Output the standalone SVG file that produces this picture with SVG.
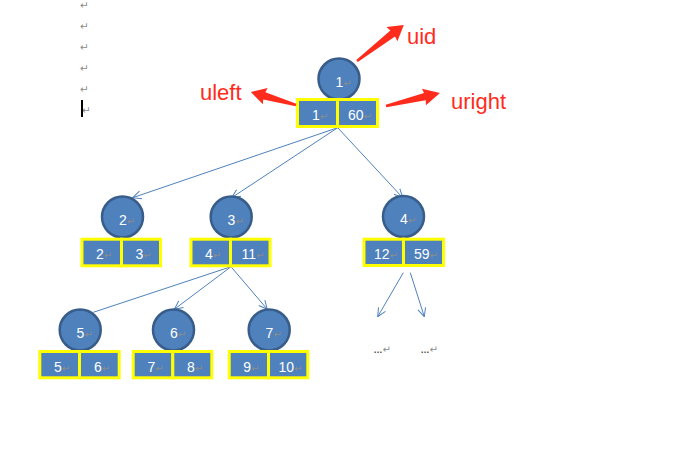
<svg xmlns="http://www.w3.org/2000/svg" width="690" height="462" viewBox="0 0 690 462">
<defs>
<style>
.circ{fill:#4f81bd;stroke:#385d8a;stroke-width:2.5}
.box{fill:#4f81bd;stroke:#ffff00;stroke-width:3}
.num{font-family:"Liberation Sans",Arial,sans-serif;font-size:14px;fill:#ffffff;text-anchor:middle}
.pm{font-family:"DejaVu Sans",sans-serif;font-size:10px;fill:#8c8c8c}
.mark{font-family:"DejaVu Sans",sans-serif;font-size:10.5px;fill:#8c8c8c}
.con{stroke:#4f81bd;stroke-width:1;fill:none}
.red{fill:#ff2b1c}
.lbl{font-family:"Liberation Sans",Arial,sans-serif;font-size:22px;fill:#ff2b1c}
.dots{font-family:"Liberation Sans",Arial,sans-serif;font-size:9px;font-weight:bold;fill:#444}
</style>
<marker id="arr" viewBox="0 0 10 10" refX="9.5" refY="5" markerWidth="10" markerHeight="10" markerUnits="userSpaceOnUse" orient="auto">
<path d="M1,1 L9.5,5 L1,9" fill="none" stroke="#4f81bd" stroke-width="1"/>
</marker>
</defs>
<rect width="690" height="462" fill="#ffffff"/>

<g id="margin-marks">
<text class="mark" x="80" y="9">↵</text>
<text class="mark" x="80" y="30">↵</text>
<text class="mark" x="80" y="50.5">↵</text>
<text class="mark" x="80" y="72">↵</text>
<text class="mark" x="80" y="93">↵</text>
<text class="mark" x="82" y="113.5">↵</text>
<rect x="81" y="100" width="2" height="17" fill="#000000"/>
</g>

<g id="connectors">
<path class="con" d="M337.7,127.7 L132.7,197.7" marker-end="url(#arr)"/>
<path class="con" d="M337.7,127.7 L231.7,197.7" marker-end="url(#arr)"/>
<path class="con" d="M337.7,127.7 L402.7,197.7" marker-end="url(#arr)"/>
<path class="con" d="M231,266.7 L93.3,312.3"/>
<path class="con" d="M231,266.7 L174.3,309.3" marker-end="url(#arr)"/>
<path class="con" d="M231,266.7 L267.3,309.3" marker-end="url(#arr)"/>
<path class="con" d="M403.3,272.7 L377.7,316.7" marker-end="url(#arr)"/>
<path class="con" d="M410.3,272.7 L424.3,316.7" marker-end="url(#arr)"/>
</g>

<g id="node-1">
<circle class="circ" cx="339" cy="79" r="20.5"/>
<text class="num" x="343.5" y="86.5">1<tspan class="pm">↵</tspan></text>
<rect class="box" x="297.5" y="99.5" width="40" height="27"/>
<rect class="box" x="337.5" y="99.5" width="40" height="27"/>
<text class="num" x="320" y="120">1<tspan class="pm">↵</tspan></text>
<text class="num" x="360" y="120">60<tspan class="pm">↵</tspan></text>
</g>

<g id="node-2">
<circle class="circ" cx="122.5" cy="217" r="20.5"/>
<text class="num" x="127" y="224.5">2<tspan class="pm">↵</tspan></text>
<rect class="box" x="82" y="239.2" width="39.5" height="26.6"/>
<rect class="box" x="121.5" y="239.2" width="39" height="26.6"/>
<text class="num" x="104" y="259">2<tspan class="pm">↵</tspan></text>
<text class="num" x="143.5" y="259">3<tspan class="pm">↵</tspan></text>
</g>

<g id="node-3">
<circle class="circ" cx="231.2" cy="217" r="20.5"/>
<text class="num" x="235.7" y="224.5">3<tspan class="pm">↵</tspan></text>
<rect class="box" x="191" y="239.2" width="39.5" height="26.6"/>
<rect class="box" x="230.5" y="239.2" width="39.5" height="26.6"/>
<text class="num" x="213" y="259">4<tspan class="pm">↵</tspan></text>
<text class="num" x="253" y="259">11<tspan class="pm">↵</tspan></text>
</g>

<g id="node-4">
<circle class="circ" cx="403.5" cy="216.5" r="20.5"/>
<text class="num" x="408" y="224">4<tspan class="pm">↵</tspan></text>
<rect class="box" x="364" y="239.2" width="39.5" height="26.3"/>
<rect class="box" x="403.5" y="239.2" width="40" height="26.3"/>
<text class="num" x="386" y="259">12<tspan class="pm">↵</tspan></text>
<text class="num" x="426" y="259">59<tspan class="pm">↵</tspan></text>
</g>

<g id="node-5">
<circle class="circ" cx="80.2" cy="330" r="20.5"/>
<text class="num" x="84.7" y="337.5">5<tspan class="pm">↵</tspan></text>
<rect class="box" x="39.8" y="351.5" width="39.7" height="26.3"/>
<rect class="box" x="79.5" y="351.5" width="39.7" height="26.3"/>
<text class="num" x="62" y="371.5">5<tspan class="pm">↵</tspan></text>
<text class="num" x="102" y="371.5">6<tspan class="pm">↵</tspan></text>
</g>

<g id="node-6">
<circle class="circ" cx="173.5" cy="330" r="20.5"/>
<text class="num" x="178" y="337.5">6<tspan class="pm">↵</tspan></text>
<rect class="box" x="133.2" y="351.5" width="39.6" height="26.3"/>
<rect class="box" x="172.8" y="351.5" width="39" height="26.3"/>
<text class="num" x="155.5" y="371.5">7<tspan class="pm">↵</tspan></text>
<text class="num" x="195" y="371.5">8<tspan class="pm">↵</tspan></text>
</g>

<g id="node-7">
<circle class="circ" cx="269.2" cy="330" r="20.5"/>
<text class="num" x="273.7" y="337.5">7<tspan class="pm">↵</tspan></text>
<rect class="box" x="229.2" y="351.5" width="39.3" height="26.3"/>
<rect class="box" x="268.5" y="351.5" width="39.3" height="26.3"/>
<text class="num" x="251.3" y="371.5">9<tspan class="pm">↵</tspan></text>
<text class="num" x="290.5" y="371.5">10<tspan class="pm">↵</tspan></text>
</g>

<g id="ellipses">
<text class="dots" x="373.5" y="353">…<tspan class="pm" font-weight="normal">↵</tspan></text>
<text class="dots" x="420.5" y="353">…<tspan class="pm" font-weight="normal">↵</tspan></text>
</g>

<g id="annotations">
<polygon class="red" transform="translate(357,61) rotate(-37.5)" points="0,-1.2 45,-3.8 44,-9 59,0 44,9 45,3.8 0,1.2"/>
<polygon class="red" transform="translate(296,105) rotate(-163.9)" points="0,-1.2 33,-3.8 32,-8.5 47,0 32,8.5 33,3.8 0,1.2"/>
<polygon class="red" transform="translate(386,106) rotate(-13.5)" points="0,-1.2 40,-3.8 39,-8.5 55.5,0 39,8.5 40,3.8 0,1.2"/>
<text class="lbl" x="407" y="44">uid</text>
<text class="lbl" x="200" y="100">uleft</text>
<text class="lbl" x="451" y="109">uright</text>
</g>
</svg>
